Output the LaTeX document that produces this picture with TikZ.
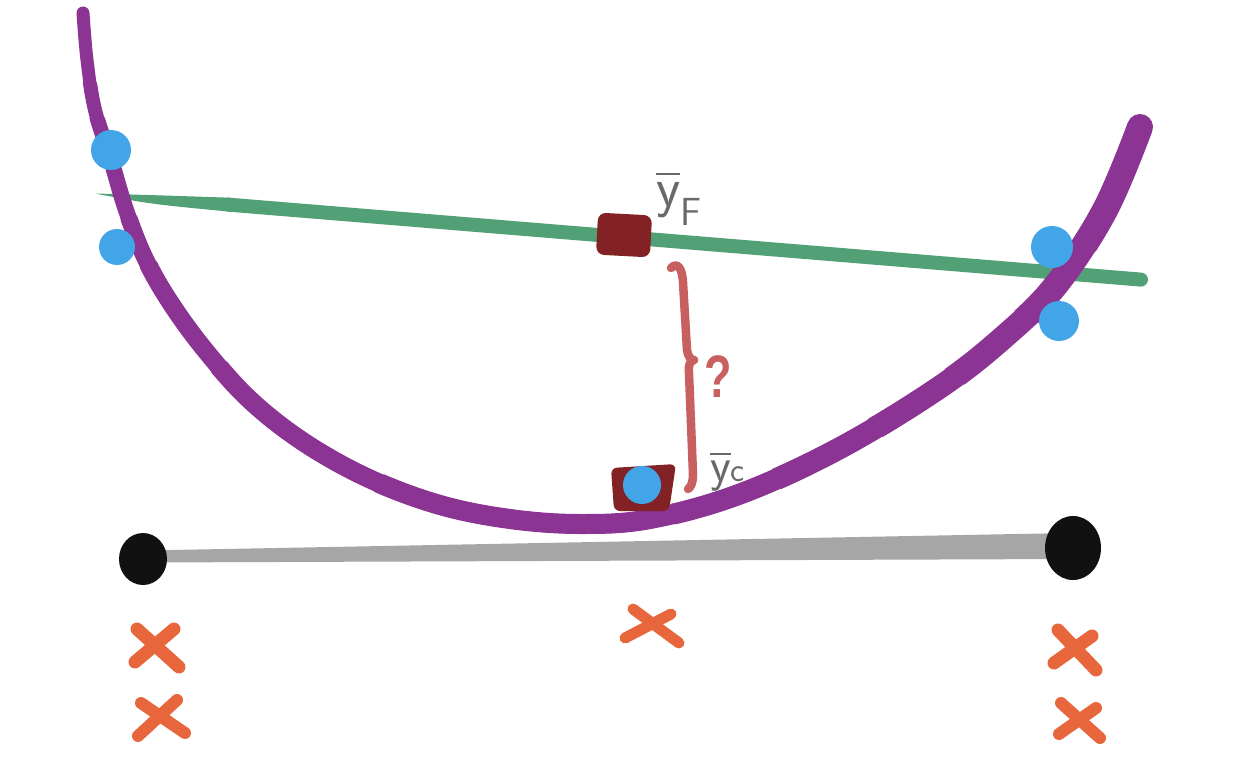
\documentclass[tikz,border=0pt]{standalone}
\usepackage{fontspec}
\usepackage{unicode-math}
\newfontfamily\qfont{Liberation Sans}
\usetikzlibrary{shapes.geometric}
\definecolor{purp}{RGB}{140,52,148}
\definecolor{bluec}{RGB}{66,165,232}
\definecolor{greenc}{RGB}{82,161,118}
\definecolor{sqred}{RGB}{130,34,36}
\definecolor{bracec}{RGB}{200,96,96}
\definecolor{orangec}{RGB}{232,102,60}
\definecolor{barc}{RGB}{166,166,166}
\definecolor{blackc}{RGB}{17,17,17}
\definecolor{labc}{RGB}{105,105,105}
\newcommand\purplecurve[1]{\draw[purp, line cap=round, line join=round, #1] plot[smooth, tension=0.6] coordinates {(83,13) (87,60) (95,110) (111,160) (126,210) (145,258) (170,302) (205,350) (250,400) (305,443) (370,479) (440,505) (510,519) (580,524) (650,519) (740,494) (840,448) (940,387) (1005,336) (1056,285) (1105,210) (1140,127)};}
\begin{document}
\begin{tikzpicture}[x=1pt,y=-1pt,
  bluedot/.style={circle, fill=bluec, inner sep=0pt},
  blackdot/.style={ellipse, fill=blackc, inner sep=0pt},
  sqnode/.style={rectangle, fill=sqred, rounded corners=8pt, inner sep=0pt},
  brace/.style={draw=bracec, line width=8.5pt, line cap=round, line join=round},
  xs/.style={draw=orangec, line width=13pt, line cap=round},
  lab/.style={text=labc, inner sep=0pt},
  qmark/.style={text=bracec, inner sep=0pt, font=\fontsize{60}{60}\selectfont\qfont\bfseries, xscale=0.75}]
\useasboundingbox[fill=white] (0,0) rectangle (1248,768);

% green line (tapered left tip)
\fill[greenc] (95,193.5) .. controls (150,195) .. (230,197.7) -- (230,211.7) .. controls (150,204) .. cycle;
\draw[greenc, line width=14pt, line cap=round] (228,204.6) -- (1141,279.6);

% purple curve, growing thicker along its length (wedges around (600,100))
\purplecurve{line width=13pt}
\foreach \w/\a in {14/178,15/182,16/188,17/194,18/200,19/215,20/240,21/280,22/295,23/310,24/322,25/333,26/343}{
  \begin{scope}
    \clip (600,100) -- +({-\a}:3000) -- +({-(\a+(380-\a)/3)}:3000) -- +({-(\a+2*(380-\a)/3)}:3000) -- +(-380:3000) -- cycle;
    \purplecurve{line width=\w pt}
  \end{scope}
}

% gray bar and end points
\fill[barc] (145,550.5) -- (1070,533) -- (1070,559) -- (145,562.5) -- cycle;
\node[blackdot, minimum width=48pt, minimum height=52pt] (L) at (143,559) {};
\node[blackdot, minimum width=56pt, minimum height=64pt] (R) at (1073,548) {};

% centroid squares
\node[sqnode, minimum width=54pt, minimum height=42pt, rotate=-3] (sqF) at (624,235) {};
\fill[sqred, rounded corners=6pt] (611,468) -- (676,464) -- (669,511) -- (614,511) -- cycle;
\coordinate (sqC) at (643,488);

% blue data points
\node[bluedot, minimum size=40pt] (b1) at (111,150) {};
\node[bluedot, minimum size=36pt] (b2) at (117,247) {};
\node[bluedot, minimum width=40pt, minimum height=42pt] (b3) at (1052,247) {};
\node[bluedot, minimum size=40pt] (b4) at (1059,321) {};
\node[bluedot, minimum size=38pt] (b5) at (642,485) {};

% brace with question mark
\draw[brace] (671,268) .. controls (677,262) and (682,267) .. (683,282)
  -- (687,350) .. controls (688,357) and (691,360) .. (694,360)
  .. controls (690,361) and (688,365) .. (689,373)
  -- (693,474) .. controls (693,483) and (691,487) .. (688,489);
\node[qmark] (q) at (718,377) {?};

% labels
\node[lab, anchor=base west, font=\fontsize{56}{56}\selectfont] (lF) at (656,206) {$\overline{\mathsf{y}}_{\mathsf{F}}$};
\node[lab, anchor=base west, font=\fontsize{48}{48}\selectfont] (lC) at (710,481) {$\overline{\mathsf{y}}{\scriptstyle\mathsf{c}}$};

% orange crosses
\draw[xs] (137,629) -- (179,667);
\draw[xs] (174,629) -- (135,662);
\draw[xs, line width=12pt] (141,703) -- (185,733);
\draw[xs, line width=12pt] (177,700) -- (138,736);
\draw[xs, line width=11pt] (633,609) -- (679,643);
\draw[xs, line width=11pt] (671,614) -- (625,638);
\draw[xs] (1058,630) -- (1096,670);
\draw[xs] (1092,636) -- (1054,663);
\draw[xs, line width=12pt] (1061,703) -- (1100,738);
\draw[xs, line width=12pt] (1096,708) -- (1059,734);
\end{tikzpicture}
\end{document}
